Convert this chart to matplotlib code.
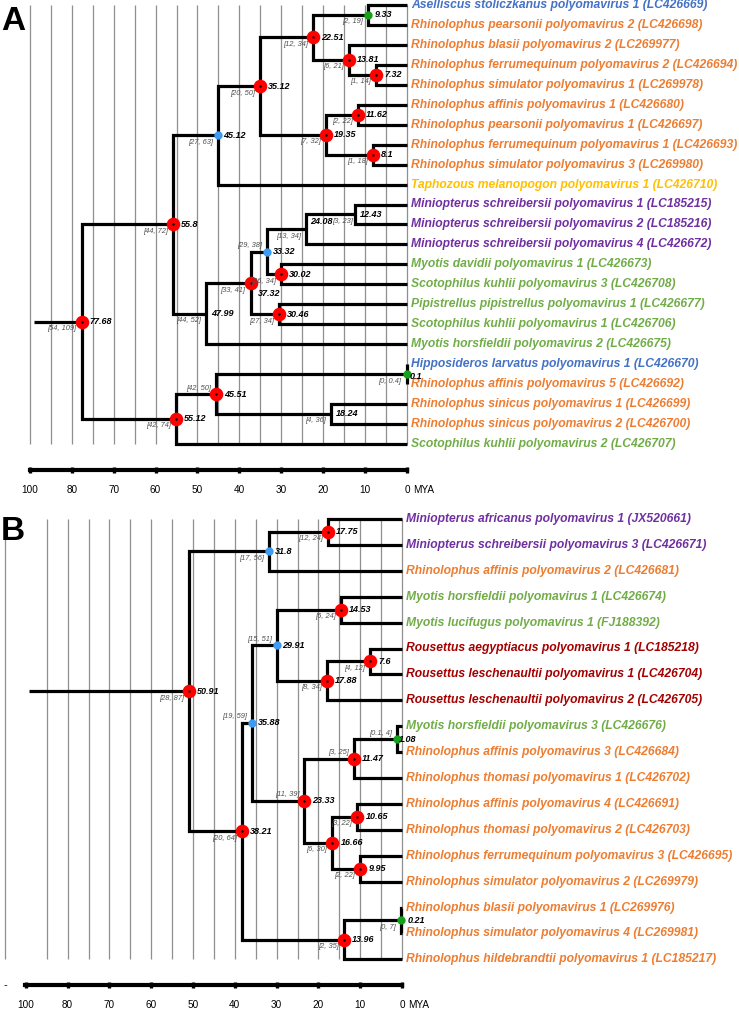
import matplotlib.pyplot as plt

plt.rcParams['font.family'] = ['Liberation Sans', 'DejaVu Sans']

# ---- panel A: tips (top to bottom) ----
a_tips = ['Aselliscus stoliczkanus polyomavirus 1 (LC426669)',
          'Rhinolophus pearsonii polyomavirus 2 (LC426698)',
          'Rhinolophus blasii polyomavirus 2 (LC269977)',
          'Rhinolophus ferrumequinum polyomavirus 2 (LC426694)',
          'Rhinolophus simulator polyomavirus 1 (LC269978)',
          'Rhinolophus affinis polyomavirus 1 (LC426680)',
          'Rhinolophus pearsonii polyomavirus 1 (LC426697)',
          'Rhinolophus ferrumequinum polyomavirus 1 (LC426693)',
          'Rhinolophus simulator polyomavirus 3 (LC269980)',
          'Taphozous melanopogon polyomavirus 1 (LC426710)',
          'Miniopterus schreibersii polyomavirus 1 (LC185215)',
          'Miniopterus schreibersii polyomavirus 2 (LC185216)',
          'Miniopterus schreibersii polyomavirus 4 (LC426672)',
          'Myotis davidii polyomavirus 1 (LC426673)',
          'Scotophilus kuhlii polyomavirus 3 (LC426708)',
          'Pipistrellus pipistrellus polyomavirus 1 (LC426677)',
          'Scotophilus kuhlii polyomavirus 1 (LC426706)',
          'Myotis horsfieldii polyomavirus 2 (LC426675)',
          'Hipposideros larvatus polyomavirus 1 (LC426670)',
          'Rhinolophus affinis polyomavirus 5 (LC426692)',
          'Rhinolophus sinicus polyomavirus 1 (LC426699)',
          'Rhinolophus sinicus polyomavirus 2 (LC426700)',
          'Scotophilus kuhlii polyomavirus 2 (LC426707)']

# internal nodes, children listed before parents ('t' = tip, 'n' = node)
a_node_kids = [('t0', 't1'), ('t3', 't4'), ('t2', 'n1'), ('n0', 'n2'),
               ('t5', 't6'), ('t7', 't8'), ('n4', 'n5'), ('n3', 'n6'),
               ('n7', 't9'), ('t10', 't11'), ('n9', 't12'), ('t13', 't14'),
               ('n10', 'n11'), ('t15', 't16'), ('n12', 'n13'), ('n14', 't17'),
               ('n8', 'n15'), ('t18', 't19'), ('t20', 't21'), ('n17', 'n18'),
               ('n19', 't22'), ('n16', 'n20')]
a_node_ages = [9.33, 7.32, 13.81, 22.51, 11.62, 8.1, 19.35, 35.12, 45.12,
               12.43, 24.08, 30.02, 33.32, 30.46, 37.32, 47.99, 55.8, 0.1,
               18.24, 45.51, 55.12, 77.68]
a_node_hpd = [(2, 19), (1, 14), (6, 21), (12, 34), (2, 22), (1, 18), (7, 32),
              (20, 50), (27, 63), (3, 23), (13, 34), (26, 34), (29, 38),
              (27, 34), (33, 41), (44, 52), (44, 72), (0, 0.4), (4, 36),
              (42, 50), (42, 74), (54, 109)]
a_node_support = ['g', 'r', 'r', 'r', 'r', 'r', 'r', 'r', 'b', '', '', 'r', 'b',
                  'r', 'r', '', 'r', 'g', '', 'r', 'r', 'r']
a_root_from = 89

# ---- panel B ----
b_tips = ['Miniopterus africanus polyomavirus 1 (JX520661)',
          'Miniopterus schreibersii polyomavirus 3 (LC426671)',
          'Rhinolophus affinis polyomavirus 2 (LC426681)',
          'Myotis horsfieldii polyomavirus 1 (LC426674)',
          'Myotis lucifugus polyomavirus 1 (FJ188392)',
          'Rousettus aegyptiacus polyomavirus 1 (LC185218)',
          'Rousettus leschenaultii polyomavirus 1 (LC426704)',
          'Rousettus leschenaultii polyomavirus 2 (LC426705)',
          'Myotis horsfieldii polyomavirus 3 (LC426676)',
          'Rhinolophus affinis polyomavirus 3 (LC426684)',
          'Rhinolophus thomasi polyomavirus 1 (LC426702)',
          'Rhinolophus affinis polyomavirus 4 (LC426691)',
          'Rhinolophus thomasi polyomavirus 2 (LC426703)',
          'Rhinolophus ferrumequinum polyomavirus 3 (LC426695)',
          'Rhinolophus simulator polyomavirus 2 (LC269979)',
          'Rhinolophus blasii polyomavirus 1 (LC269976)',
          'Rhinolophus simulator polyomavirus 4 (LC269981)',
          'Rhinolophus hildebrandtii polyomavirus 1 (LC185217)']
b_node_kids = [('t0', 't1'), ('n0', 't2'), ('t3', 't4'), ('t5', 't6'),
               ('n3', 't7'), ('n2', 'n4'), ('t8', 't9'), ('n6', 't10'),
               ('t11', 't12'), ('t13', 't14'), ('n8', 'n9'), ('n7', 'n10'),
               ('n5', 'n11'), ('t15', 't16'), ('n13', 't17'), ('n12', 'n14'),
               ('n1', 'n15')]
b_node_ages = [17.75, 31.8, 14.53, 7.6, 17.88, 29.91, 1.08, 11.47, 10.65,
               9.95, 16.66, 23.33, 35.88, 0.21, 13.96, 38.21, 50.91]
b_node_hpd = [(12, 24), (17, 56), (6, 24), (4, 12), (8, 34), (15, 51),
              (0.1, 4), (3, 25), (3, 22), (2, 22), (6, 30), (11, 39),
              (19, 59), (0, 7), (2, 35), (20, 64), (28, 87)]
b_node_support = ['r', 'b', 'r', 'r', 'r', 'b', 'g', 'r', 'r', 'r', 'r', 'r',
                  'b', 'g', 'r', 'r', 'r']
b_root_from = 89.2

# time axis
axis_ticks = [90, 80, 70, 60, 50, 40, 30, 20, 10, 0]
axis_labels = ['100', '80', '70', '60', '50', '40', '30', '20', '10', '0']

genus_colors = {'Rhinolophus': '#ed7d31', 'Aselliscus': '#4472c4',
                'Hipposideros': '#4472c4', 'Taphozous': '#ffc000',
                'Miniopterus': '#7030a0', 'Myotis': '#70ad47',
                'Scotophilus': '#70ad47', 'Pipistrellus': '#70ad47',
                'Rousettus': '#a50000'}
support_style = {'r': ('#ff0000', 9.8), 'b': ('#3d9cf2', 6.0),
                 'g': ('#17a11b', 6.0)}
label_dx = {'r': 8, 'b': 5.5, 'g': 7, '': 5}
PT = 0.72  # points per pixel at dpi 100

W, H = 739, 1010


def layout(tips, kids, ages):
    pos = {}
    for i in range(len(tips)):
        pos['t%d' % i] = (0.0, float(i))
    for k, (c1, c2) in enumerate(kids):
        pos['n%d' % k] = (ages[k], (pos[c1][1] + pos[c2][1]) / 2)
    return pos


def draw_panel(fig, rect_px, x0, xs, y0, ys, tips, kids, ages, hpd, support,
               root_from, grid_ages, bar_y, bar_from, above, label_off,
               hpd_off):
    # rect_px = (top, bottom) in pixels; x0 = pixel of age 0, xs = px per MYA
    top, bottom = rect_px
    ax = fig.add_axes([0, 1 - bottom / H, 1, (bottom - top) / H])
    ax.set_xlim(x0 / xs, (x0 - W) / xs)
    ax.set_ylim((bottom - y0) / ys, (top - y0) / ys)
    ax.axis('off')

    ax.vlines(grid_ages, 0, len(tips) - 1, color='#8f8f8f', lw=0.9, zorder=0)

    pos = layout(tips, kids, ages)
    lw = 2.3
    for k, (c1, c2) in enumerate(kids):
        xn, yn = pos['n%d' % k]
        ax.plot([pos[c1][0], xn, xn, pos[c2][0]],
                [pos[c1][1], pos[c1][1], pos[c2][1], pos[c2][1]],
                color='black', lw=lw, solid_joinstyle='miter',
                solid_capstyle='butt', zorder=2)
    root = 'n%d' % (len(kids) - 1)
    ax.plot([root_from, pos[root][0]], [pos[root][1]] * 2, color='black',
            lw=lw, solid_capstyle='butt', zorder=2)

    for i, name in enumerate(tips):
        ax.annotate(name, xy=(0, i), xytext=(4 * PT, 0),
                    textcoords='offset points', va='center', ha='left',
                    fontsize=8.7, fontweight='bold', style='italic',
                    color=genus_colors[name.split()[0]])

    for k in range(len(kids)):
        xn, yn = pos['n%d' % k]
        s = support[k]
        if s:
            col, ms = support_style[s]
            ax.plot(xn, yn, 'o', color=col, ms=ms, mec='none', zorder=4)
            if s == 'r':
                ax.plot(xn, yn, 'o', color='black', ms=1.8, mec='none',
                        zorder=5)
        dx, dy = label_off.get(k, (label_dx[s], 0))
        ax.annotate('%g' % ages[k], xy=(xn, yn), xytext=(dx * PT, -dy * PT),
                    textcoords='offset points', va='center', ha='left',
                    fontsize=6.5, fontweight='bold', style='italic', zorder=6)
        lo, hi = hpd[k]
        hy = -6 if k in above else 7
        hx = hpd_off.get(k, 5)
        ax.annotate('[%g, %g]' % (lo, hi), xy=(xn, yn),
                    xytext=(-hx * PT, -hy * PT), textcoords='offset points',
                    va='center', ha='right', fontsize=5.4, style='italic',
                    color='#505050', zorder=6)

    # time scale bar
    sx = fig.add_axes([0, 1 - bar_y / H, 1, 1e-4])
    sx.set_xlim(x0 / xs, (x0 - W) / xs)
    sx.set_yticks([])
    for side in ['top', 'left', 'right']:
        sx.spines[side].set_visible(False)
    sx.spines['bottom'].set_linewidth(3)
    sx.spines['bottom'].set_bounds(0, bar_from)
    sx.patch.set_visible(False)
    sx.set_xticks(axis_ticks)
    sx.set_xticklabels(axis_labels)
    sx.tick_params(axis='x', direction='inout', length=5, width=2.4,
                   labelsize=7.2, pad=8.5)
    sx.annotate('MYA', xy=(0, 0), xycoords=('data', 'axes fraction'),
                xytext=(6 * PT, -20 * PT), textcoords='offset points',
                va='center', ha='left', fontsize=7.2)
    return ax, sx


fig = plt.figure(figsize=(W / 100, H / 100), dpi=100)

grid_a = list(range(0, 95, 5))
draw_panel(fig, (0, 500), 407, 4.19, 5, 19.95, a_tips, a_node_kids,
           a_node_ages, a_node_hpd, a_node_support, a_root_from, grid_a,
           470, 90, above={12, 19},
           label_off={14: (7, 10), 10: (4, -8), 17: (3, 2)},
           hpd_off={9: 2})

grid_b = [a for a in range(0, 100, 5) if a != 90]
ax_b, sx_b = draw_panel(fig, (500, 1010), 402, 4.18, 519, 25.9, b_tips,
                        b_node_kids, b_node_ages, b_node_hpd, b_node_support,
                        b_root_from, grid_b, 985, 90.2,
                        above={5, 6, 7, 11, 12},
                        label_off={6: (1, 0)}, hpd_off={})
sx_b.annotate('-', xy=(0, 0), xycoords='axes fraction', xytext=(3 * PT, 0),
              textcoords='offset points', va='center', ha='left', fontsize=8)

fig.text(0.001, 1 - 21 / H, 'A', fontsize=24, fontweight='bold', va='center')
fig.text(0.001, 1 - 531 / H, 'B', fontsize=24, fontweight='bold', va='center')

fig.savefig('out.png', dpi=100)
